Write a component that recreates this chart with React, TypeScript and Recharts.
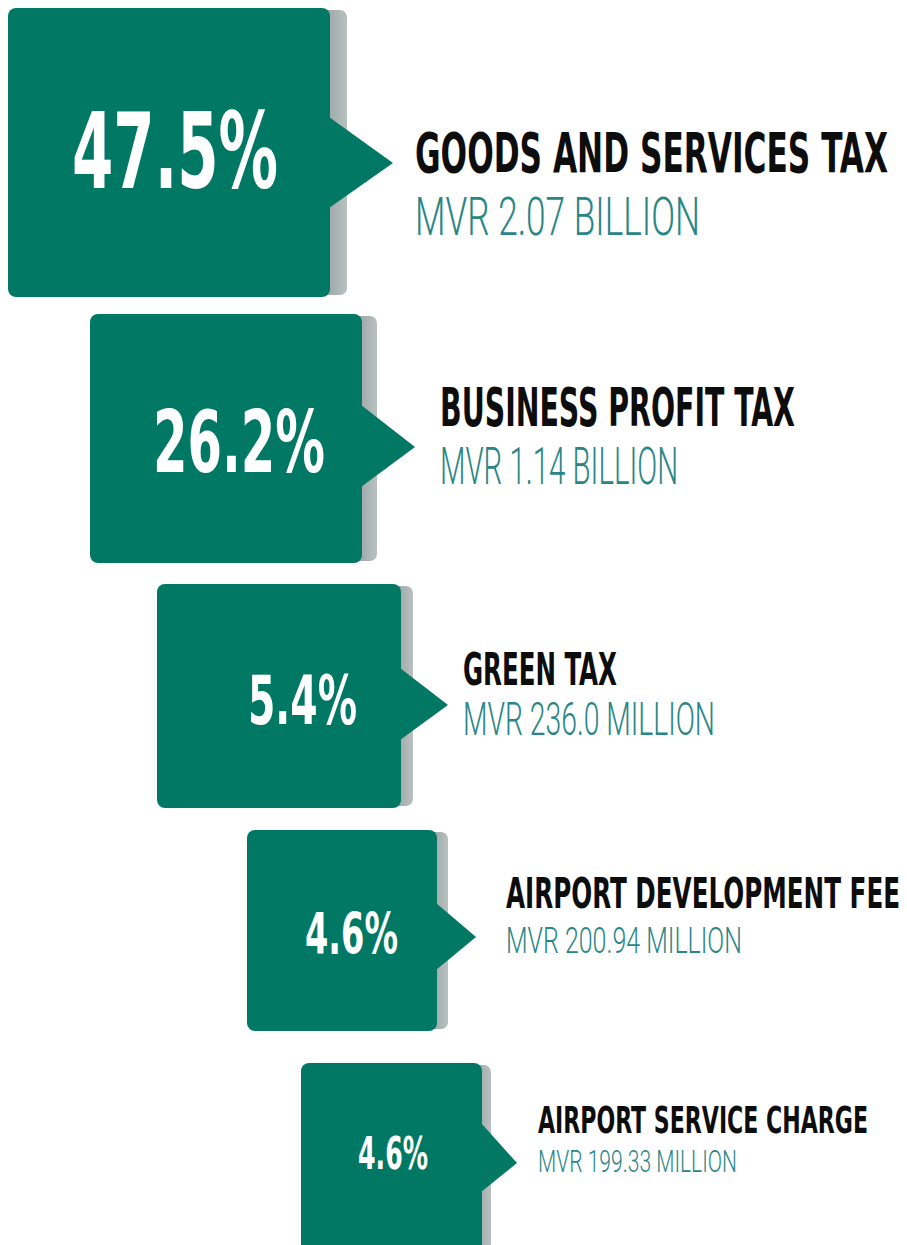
import { BarChart, Bar, XAxis, YAxis } from 'recharts'

// Revenue sources and their share of total tax revenue
const categories = [
  'GOODS AND SERVICES TAX',
  'BUSINESS PROFIT TAX',
  'GREEN TAX',
  'AIRPORT DEVELOPMENT FEE',
  'AIRPORT SERVICE CHARGE',
]
const shares = [47.5, 26.2, 5.4, 4.6, 4.6]
const amounts = [
  'MVR 2.07 BILLION',
  'MVR 1.14 BILLION',
  'MVR 236.0 MILLION',
  'MVR 200.94 MILLION',
  'MVR 199.33 MILLION',
]

const data = categories.map((name, i) => ({ name, share: shares[i], amount: amounts[i] }))

// Staircase layout of the callout boxes (presentation only)
const LAYOUT = [
  { x: 8, y: 8, w: 322, h: 289, sh: 347, a1: 117, a2: 208, tx: 393, ty: 163, p1: 72, p2: 278, pb: 188, pc: 75, t1: 415, t2: 888, tb: 172, tc: 40, s2: 700, sb: 235, sc: 39 },
  { x: 90, y: 314, w: 272, h: 249, sh: 377, a1: 405, a2: 487, tx: 415, ty: 447, p1: 153, p2: 325, pb: 472, pc: 61, t1: 440, t2: 795, tb: 426, tc: 38, s2: 678, sb: 484, sc: 37 },
  { x: 157, y: 584, w: 244, h: 224, sh: 413, a1: 668, a2: 740, tx: 448, ty: 705, p1: 248, p2: 357, pb: 724, pc: 49, t1: 463, t2: 617, tb: 685, tc: 32, s2: 715, sb: 735, sc: 33 },
  { x: 247, y: 830, w: 190, h: 201, sh: 448, a1: 903, a2: 970, tx: 476, ty: 937, p1: 305, p2: 398, pb: 954, pc: 41, t1: 506, t2: 900, tb: 908, tc: 31, s2: 742, sb: 953, sc: 26 },
  { x: 301, y: 1063, w: 181, h: 200, sh: 491, a1: 1123, a2: 1192, tx: 517, ty: 1163, p1: 358, p2: 428, pb: 1169, pc: 32, t1: 538, t2: 868, tb: 1133, tc: 27, s2: 737, sb: 1172, sc: 22 },
]

const GREEN = '#017863'
const TEAL = '#2a8686'
const CAP = 0.716
const BOLD_FONT = "'Liberation Sans Narrow', 'DejaVu Sans Condensed', sans-serif"
const THIN_FONT = "Roboto, 'Noto Sans', sans-serif"

const ctx = typeof document !== 'undefined' ? document.createElement('canvas').getContext('2d') : null

// squeeze text horizontally so it spans [x1, x2] with the given cap height
const FitText = ({ text, x1, x2, base, cap, family, weight, fill }: any) => {
  const size = cap / CAP
  let sx = 1
  if (ctx) {
    ctx.font = `${weight} ${size}px ${family}`
    const w = ctx.measureText(text).width
    if (w > 0) sx = (x2 - x1) / w
  }
  return (
    <text
      transform={`translate(${x1},${base}) scale(${sx},1)`}
      x={0}
      y={0}
      fill={fill}
      fontFamily={family}
      fontWeight={weight}
      fontSize={size}
    >
      {text}
    </text>
  )
}

const Callout = (props: any) => {
  const g = LAYOUT[props.index]
  const d = props.payload
  if (!g) return null
  const right = g.x + g.w
  return (
    <g>
      <rect x={right - 12} y={g.y + 2} width={g.sh - right + 12} height={g.h - 4} rx={7} fill="url(#shadowGrad)" />
      <rect x={g.x} y={g.y} width={g.w} height={g.h} rx={8} fill={GREEN} />
      <polygon points={`${right - 1},${g.a1} ${g.tx},${g.ty} ${right - 1},${g.a2}`} fill={GREEN} />
      <FitText text={`${d.share.toFixed(1)}%`} x1={g.p1} x2={g.p2} base={g.pb} cap={g.pc} family={BOLD_FONT} weight={700} fill="#fff" />
      <FitText text={d.name} x1={g.t1} x2={g.t2} base={g.tb} cap={g.tc} family={BOLD_FONT} weight={700} fill="#0d0d0d" />
      <FitText text={d.amount} x1={g.t1} x2={g.s2} base={g.sb} cap={g.sc} family={THIN_FONT} weight={300} fill={TEAL} />
    </g>
  )
}

const App = () => {
  return (
    <div style={{ position: 'absolute', left: 0, top: 0, background: '#fff' }}>
      <BarChart width={907} height={1245} data={data} layout="vertical" margin={{ top: 0, right: 0, bottom: 0, left: 0 }}>
        <defs>
          <linearGradient id="shadowGrad" x1="0" y1="0" x2="1" y2="0">
            <stop offset="0%" stopColor="#8e9b9b" />
            <stop offset="60%" stopColor="#a9b2b2" />
            <stop offset="100%" stopColor="#b9c0c0" />
          </linearGradient>
        </defs>
        <XAxis type="number" hide domain={[0, 50]} />
        <YAxis type="category" dataKey="name" hide />
        <Bar dataKey="share" isAnimationActive={false} shape={Callout} />
      </BarChart>
    </div>
  )
}

export default App
